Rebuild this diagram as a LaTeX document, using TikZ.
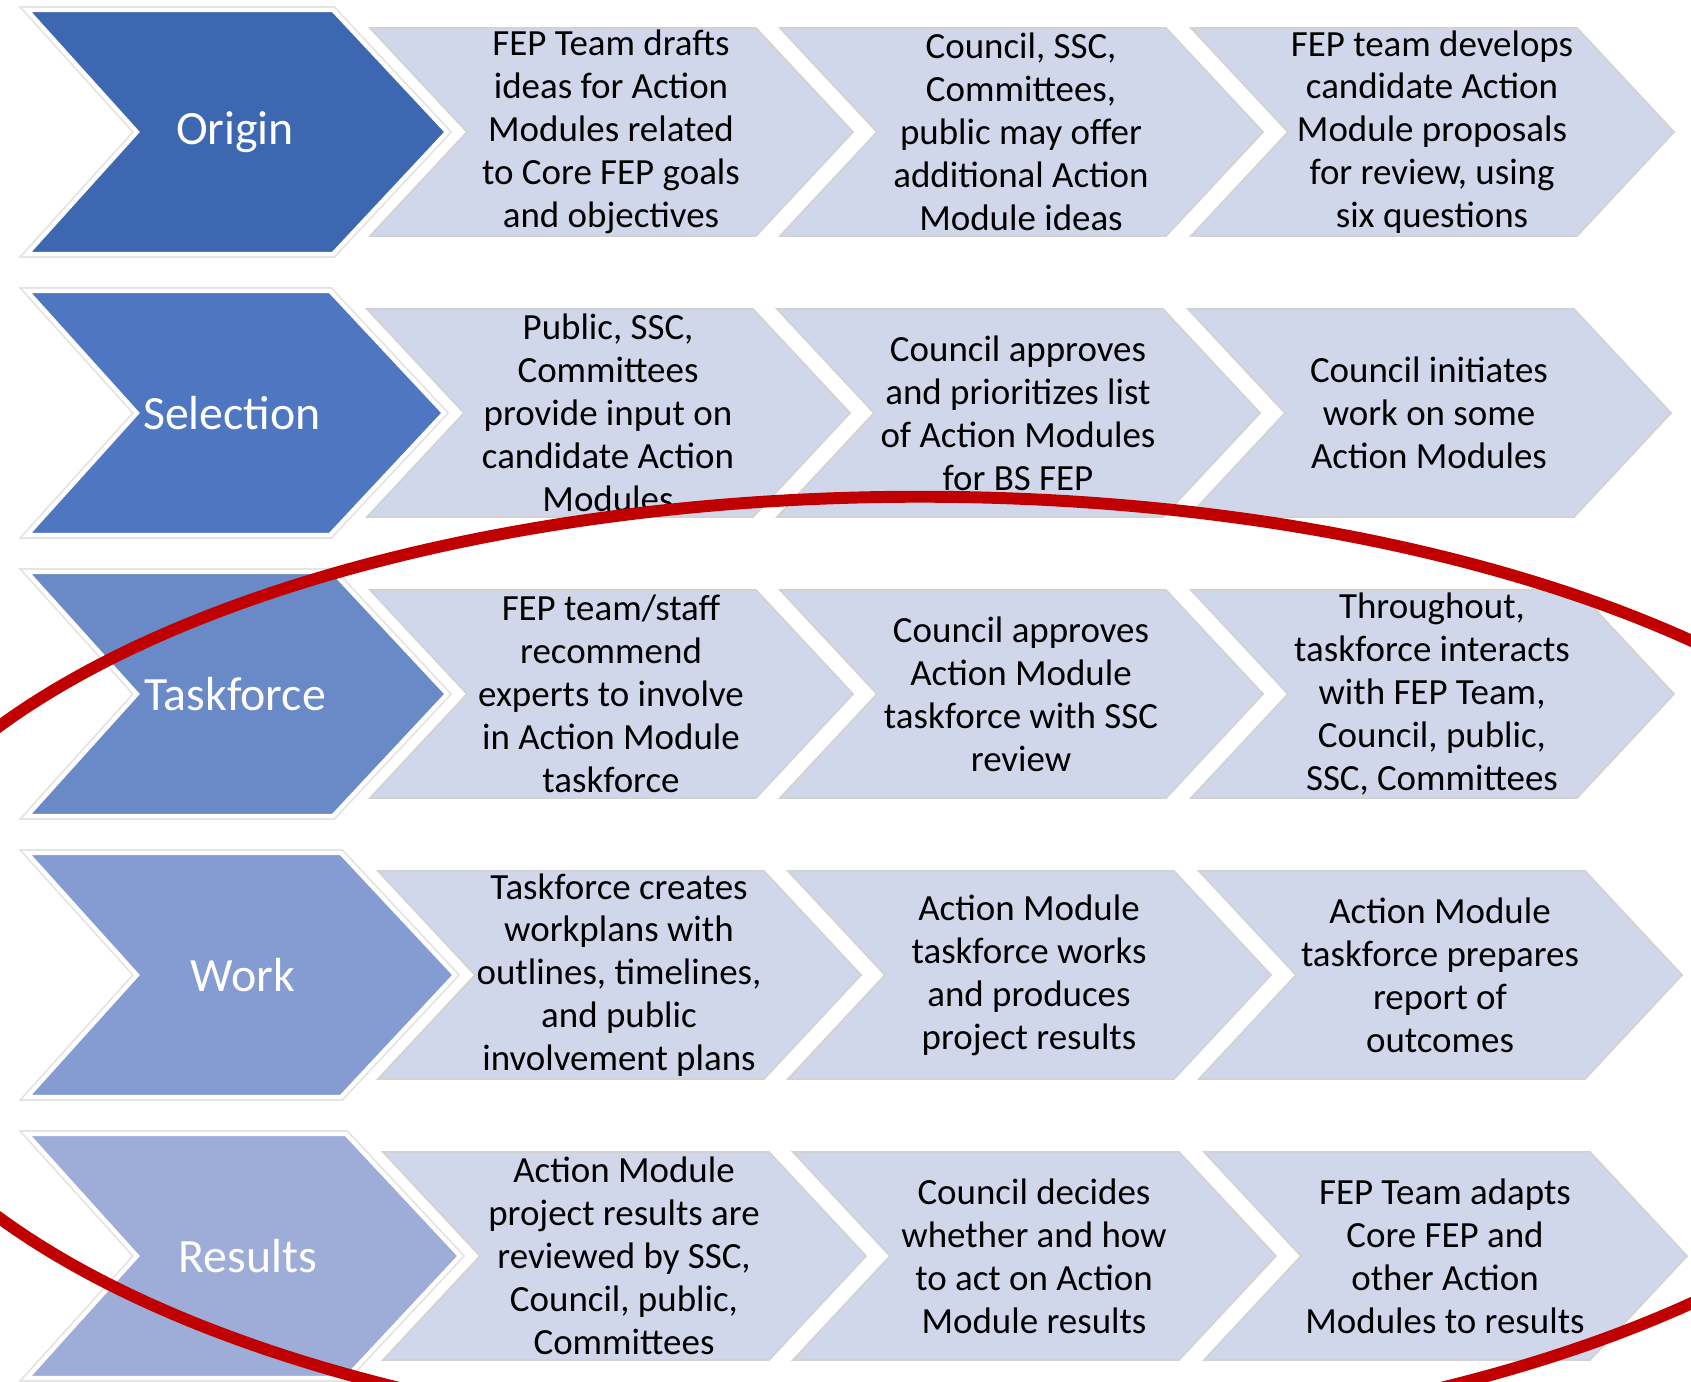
\documentclass[tikz,border=0pt]{standalone}
\usepackage{fontspec}
\setmainfont{Carlito}
\usepackage{tikz}
\usetikzlibrary{positioning}
\definecolor{originblue}{HTML}{3E67B1}
\definecolor{selectblue}{HTML}{4F76C0}
\definecolor{taskblue}{HTML}{6A89C7}
\definecolor{workblue}{HTML}{859CD2}
\definecolor{resultblue}{HTML}{9DADD8}
\definecolor{steplight}{HTML}{D1D7EB}
\definecolor{loopred}{HTML}{C00000}

\tikzset{
  phaseglow/.style={draw=gray!22, line width=2.2pt},
  phaseedge/.style={draw=white, line width=1.2pt},
  phaselabel/.style={text=white, inner sep=0pt, font=\fontsize{13.6}{16}\selectfont},
  stepedge/.style={fill=steplight, draw=gray!35, line width=0.5pt},
  steptext/.style={align=center, inner sep=0pt, font=\fontsize{10.5}{12.2}\selectfont},
}

% big phase chevron: y centre, shift, colour, name, label
\newcommand{\bigchev}[5]{%
  \draw[phaseglow] (27,#1-122) -- (333+#2,#1-122) -- (447+#2,#1) -- (333+#2,#1+122) -- (27,#1+122) -- (137,#1) -- cycle;
  \filldraw[phaseedge, fill=#3] (27,#1-122) -- (333+#2,#1-122) -- (447+#2,#1) -- (333+#2,#1+122) -- (27,#1+122) -- (137,#1) -- cycle;
  \node[phaselabel] (#4) at (235+#2,#1) {#5};}

% step chevron: left edge, y centre, name, text
\newcommand{\stepchev}[4]{%
  \filldraw[stepedge] (#1,#2-104) -- (#1+386,#2-104) -- (#1+483,#2) -- (#1+386,#2+104) -- (#1,#2+104) -- (#1+97,#2) -- cycle;
  \node[steptext] (#3) at (#1+241,#2) {#4};}

\begin{document}
\begin{tikzpicture}[x=0.01cm, y=-0.01cm]
\useasboundingbox (0,0) rectangle (1691,1382);

% Origin
\bigchev{132}{0}{originblue}{origin}{Origin}
\stepchev{370}{132}{origin1}{FEP Team drafts\\ideas for Action\\Modules related\\to Core FEP goals\\and objectives}
\stepchev{780}{132}{origin2}{Council, SSC,\\Committees,\\public may offer\\additional Action\\Module ideas}
\stepchev{1191}{132}{origin3}{FEP team develops\\candidate Action\\Module proposals\\for review, using\\six questions}

% Selection
\bigchev{413}{-3}{selectblue}{selection}{Selection}
\stepchev{367}{413}{select1}{Public, SSC,\\Committees\\provide input on\\candidate Action\\Modules}
\stepchev{777}{413}{select2}{Council approves\\and prioritizes list\\of Action Modules\\for BS FEP}
\stepchev{1188}{413}{select3}{Council initiates\\work on some\\Action Modules}

% Taskforce
\bigchev{694}{0}{taskblue}{taskforce}{Taskforce}
\stepchev{370}{694}{task1}{FEP team/staff\\recommend\\experts to involve\\in Action Module\\taskforce}
\stepchev{780}{694}{task2}{Council approves\\Action Module\\taskforce with SSC\\review}
\stepchev{1191}{694}{task3}{Throughout,\\taskforce interacts\\with FEP Team,\\Council, public,\\SSC, Committees}

% Work
\bigchev{975}{8}{workblue}{work}{Work}
\stepchev{378}{975}{work1}{Taskforce creates\\workplans with\\outlines, timelines,\\and public\\involvement plans}
\stepchev{788}{975}{work2}{Action Module\\taskforce works\\and produces\\project results}
\stepchev{1199}{975}{work3}{Action Module\\taskforce prepares\\report of\\outcomes}

% Results
\bigchev{1256}{13}{resultblue}{results}{Results}
\stepchev{383}{1256}{result1}{Action Module\\project results are\\reviewed by SSC,\\Council, public,\\Committees}
\stepchev{793}{1256}{result2}{Council decides\\whether and how\\to act on Action\\Module results}
\stepchev{1204}{1256}{result3}{FEP Team adapts\\Core FEP and\\other Action\\Modules to results}

% red loop round the last three phases
\begin{scope}
\clip (0,0) rectangle (1691,1382);
\draw[loopred, line width=3.4pt] (920,972) ellipse [x radius=10.75cm, y radius=4.75cm];
\end{scope}
\end{tikzpicture}
\end{document}
